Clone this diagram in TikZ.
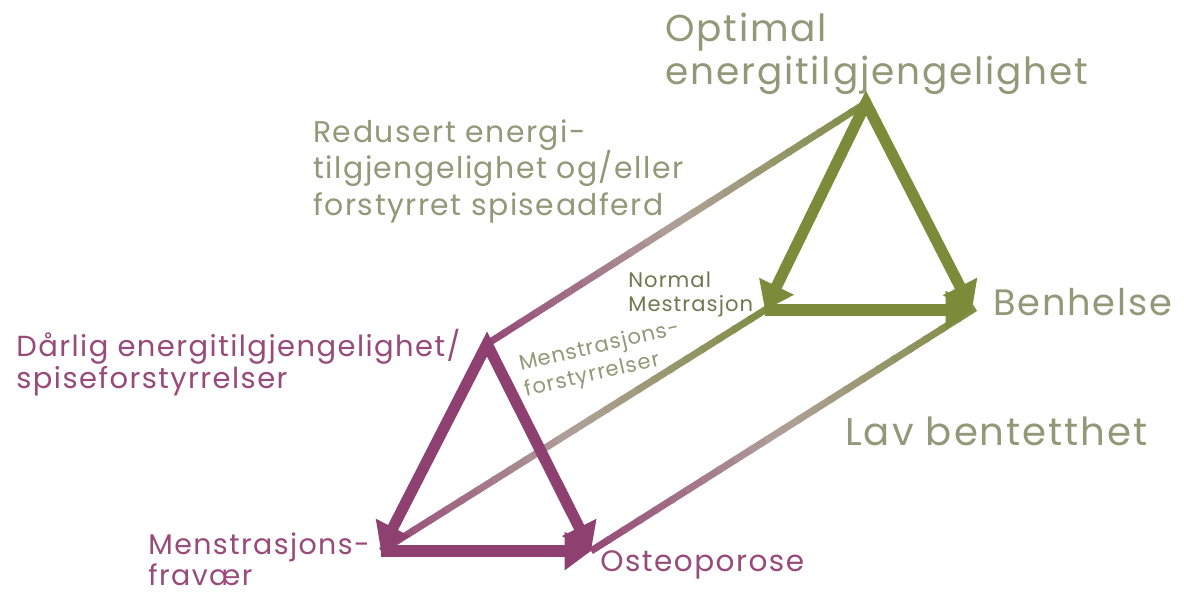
\documentclass[tikz,border=0pt]{standalone}
\usepackage{fontspec}
\setmainfont{Poppins}[LetterSpace=5]
\usetikzlibrary{calc,arrows.meta}
\definecolor{bhGreen}{RGB}{124,139,58}
\definecolor{daPurple}{RGB}{142,64,112}
\definecolor{lkGreen}{RGB}{128,142,70}
\definecolor{lkPurple}{RGB}{150,75,120}
\definecolor{lkGrey}{RGB}{176,160,152}
\definecolor{txGreen}{RGB}{146,152,120}
\definecolor{txDark}{RGB}{112,120,82}
\definecolor{txPurple}{RGB}{152,74,122}
\def\fadelink(#1)(#2){\foreach \k in {0,...,23}{%
		\pgfmathsetmacro\fa{\k/24}%
		\pgfmathsetmacro\fb{(\k+1.2)/24}%
		\pgfmathtruncatemacro\pa{max(0,100-200*\k/23)}%
		\pgfmathtruncatemacro\pg{max(0,200*\k/23-100)}%
		\ifnum\pa>0 \edef\lkcol{lkPurple!\pa!lkGrey}\else\edef\lkcol{lkGreen!\pg!lkGrey}\fi
		\draw[link, draw=\lkcol] ($(#1)!\fa!(#2)$) -- ($(#1)!\fb!(#2)$);}}

\begin{document}
\begin{tikzpicture}[x=0.02cm, y=-0.02cm,
		link/.style={line width=4pt},
		tri/.style={line width=6.4pt, line join=miter, -{Triangle[length=15pt,width=21pt]}},
		tritop/.style={line width=6.4pt, line join=miter, {Triangle[length=15pt,width=21pt]}-{Triangle[length=15pt,width=21pt]}},
		lbl/.style={anchor=north west, inner sep=0pt, align=left}]
		%%%%% START %%%%%
		
		\useasboundingbox[fill=white] (0,0) rectangle (1184,594);
		
		\coordinate (opt) at (866,103);
		\coordinate (nm) at (765,310);
		\coordinate (bh) at (972,310);
		\coordinate (dar) at (487,344);
		\coordinate (mf) at (381,551);
		\coordinate (ost) at (591,551);
		
		\fadelink(dar)(opt)
		\fadelink(mf)(nm)
		\fadelink(ost)(bh)
		
		\draw[tritop, bhGreen] (nm) -- (opt) -- (bh);
		\draw[tri, bhGreen] (nm) -- (bh);
		
		\draw[tritop, daPurple] (mf) -- (dar) -- (ost);
		\draw[tri, daPurple] (mf) -- (ost);
		
		\node[lbl, txGreen, font=\fontsize{21.3}{24.4}\selectfont] (optlbl) at (665,13) {Optimal\\energitilgjengelighet};
		\node[lbl, txGreen, font=\fontsize{17}{21}\selectfont] (redlbl) at (313,119) {Redusert energi-\\tilgjengelighet og/eller\\forstyrret spiseadferd};
		\node[lbl, txPurple, font=\fontsize{16.5}{18}\selectfont] (darlbl) at (16,329) {Dårlig energitilgjengelighet/\\spiseforstyrrelser};
		\node[lbl, txPurple, font=\fontsize{16.2}{18}\selectfont] (mflbl) at (148,532) {Menstrasjons-\\fravær};
		\node[lbl, txPurple, font=\fontsize{16.8}{18}\selectfont] (ostlbl) at (600,550) {Osteoporose};
		\node[lbl, txGreen, font=\fontsize{20.9}{22}\selectfont] (bhlbl) at (993,288) {Benhelse};
		\node[lbl, txGreen, font=\fontsize{22}{24}\selectfont] (lavlbl) at (845,417) {Lav bentetthet};
		\node[lbl, txDark, font=\fontsize{12}{13.6}\selectfont] (nmlbl) at (628,272) {Normal\\Mestrasjon};
		\node[lbl, txGreen, rotate=13, font=\fontsize{12}{15}\selectfont] (mslbl) at (517,355) {Menstrasjons-\\forstyrrelser};
		
		%%%%% END %%%%%
	\end{tikzpicture}
\end{document}
